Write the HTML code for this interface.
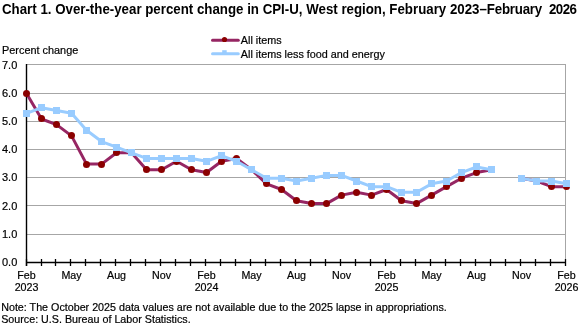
<!DOCTYPE html>
<html><head><meta charset="utf-8"><style>
html,body{margin:0;padding:0;background:#fff;}
body{width:586px;height:326px;overflow:hidden;font-family:"Liberation Sans", sans-serif;}
svg{display:block;will-change:transform;}
</style></head><body>
<svg width="586" height="326" viewBox="0 0 586 326">
<line x1="27" x2="566" y1="234.5" y2="234.5" stroke="#a6a6a6" stroke-width="1"/>
<line x1="27" x2="566" y1="205.5" y2="205.5" stroke="#a6a6a6" stroke-width="1"/>
<line x1="27" x2="566" y1="177.5" y2="177.5" stroke="#a6a6a6" stroke-width="1"/>
<line x1="27" x2="566" y1="149.5" y2="149.5" stroke="#a6a6a6" stroke-width="1"/>
<line x1="27" x2="566" y1="121.5" y2="121.5" stroke="#a6a6a6" stroke-width="1"/>
<line x1="27" x2="566" y1="93.5" y2="93.5" stroke="#a6a6a6" stroke-width="1"/>
<line x1="27" x2="566" y1="64.5" y2="64.5" stroke="#a6a6a6" stroke-width="1"/>
<line x1="565.5" x2="565.5" y1="64" y2="263" stroke="#a6a6a6" stroke-width="1"/>
<line x1="26.5" x2="26.5" y1="64" y2="266" stroke="#000" stroke-width="1.4"/>
<line x1="26" x2="566" y1="262.5" y2="262.5" stroke="#000" stroke-width="1.4"/>
<line x1="26.5" x2="26.5" y1="259" y2="266" stroke="#000" stroke-width="1.3"/>
<line x1="41.5" x2="41.5" y1="259" y2="266" stroke="#000" stroke-width="1.3"/>
<line x1="55.5" x2="55.5" y1="259" y2="266" stroke="#000" stroke-width="1.3"/>
<line x1="70.5" x2="70.5" y1="259" y2="266" stroke="#000" stroke-width="1.3"/>
<line x1="85.5" x2="85.5" y1="259" y2="266" stroke="#000" stroke-width="1.3"/>
<line x1="100.5" x2="100.5" y1="259" y2="266" stroke="#000" stroke-width="1.3"/>
<line x1="115.5" x2="115.5" y1="259" y2="266" stroke="#000" stroke-width="1.3"/>
<line x1="130.5" x2="130.5" y1="259" y2="266" stroke="#000" stroke-width="1.3"/>
<line x1="145.5" x2="145.5" y1="259" y2="266" stroke="#000" stroke-width="1.3"/>
<line x1="160.5" x2="160.5" y1="259" y2="266" stroke="#000" stroke-width="1.3"/>
<line x1="175.5" x2="175.5" y1="259" y2="266" stroke="#000" stroke-width="1.3"/>
<line x1="190.5" x2="190.5" y1="259" y2="266" stroke="#000" stroke-width="1.3"/>
<line x1="205.5" x2="205.5" y1="259" y2="266" stroke="#000" stroke-width="1.3"/>
<line x1="220.5" x2="220.5" y1="259" y2="266" stroke="#000" stroke-width="1.3"/>
<line x1="235.5" x2="235.5" y1="259" y2="266" stroke="#000" stroke-width="1.3"/>
<line x1="250.5" x2="250.5" y1="259" y2="266" stroke="#000" stroke-width="1.3"/>
<line x1="265.5" x2="265.5" y1="259" y2="266" stroke="#000" stroke-width="1.3"/>
<line x1="280.5" x2="280.5" y1="259" y2="266" stroke="#000" stroke-width="1.3"/>
<line x1="295.5" x2="295.5" y1="259" y2="266" stroke="#000" stroke-width="1.3"/>
<line x1="310.5" x2="310.5" y1="259" y2="266" stroke="#000" stroke-width="1.3"/>
<line x1="325.5" x2="325.5" y1="259" y2="266" stroke="#000" stroke-width="1.3"/>
<line x1="340.5" x2="340.5" y1="259" y2="266" stroke="#000" stroke-width="1.3"/>
<line x1="355.5" x2="355.5" y1="259" y2="266" stroke="#000" stroke-width="1.3"/>
<line x1="370.5" x2="370.5" y1="259" y2="266" stroke="#000" stroke-width="1.3"/>
<line x1="385.5" x2="385.5" y1="259" y2="266" stroke="#000" stroke-width="1.3"/>
<line x1="400.5" x2="400.5" y1="259" y2="266" stroke="#000" stroke-width="1.3"/>
<line x1="415.5" x2="415.5" y1="259" y2="266" stroke="#000" stroke-width="1.3"/>
<line x1="430.5" x2="430.5" y1="259" y2="266" stroke="#000" stroke-width="1.3"/>
<line x1="445.5" x2="445.5" y1="259" y2="266" stroke="#000" stroke-width="1.3"/>
<line x1="460.5" x2="460.5" y1="259" y2="266" stroke="#000" stroke-width="1.3"/>
<line x1="475.5" x2="475.5" y1="259" y2="266" stroke="#000" stroke-width="1.3"/>
<line x1="490.5" x2="490.5" y1="259" y2="266" stroke="#000" stroke-width="1.3"/>
<line x1="505.5" x2="505.5" y1="259" y2="266" stroke="#000" stroke-width="1.3"/>
<line x1="520.5" x2="520.5" y1="259" y2="266" stroke="#000" stroke-width="1.3"/>
<line x1="535.5" x2="535.5" y1="259" y2="266" stroke="#000" stroke-width="1.3"/>
<line x1="550.5" x2="550.5" y1="259" y2="266" stroke="#000" stroke-width="1.3"/>
<line x1="565.5" x2="565.5" y1="259" y2="266" stroke="#000" stroke-width="1.3"/>
<polyline points="26.55,93.60 41.55,118.98 56.55,124.62 71.55,135.90 86.55,164.10 101.55,164.10 116.55,152.82 131.55,152.82 146.55,169.74 161.55,169.74 176.55,161.28 191.55,169.74 206.55,172.56 221.55,161.28 236.55,158.46 251.55,169.74 266.55,183.84 281.55,189.48 296.55,200.76 311.55,203.58 326.55,203.58 341.55,195.12 356.55,192.30 371.55,195.12 386.55,189.48 401.55,200.76 416.55,203.58 431.55,195.12 446.55,186.66 461.55,178.20 476.55,172.56 491.55,169.74" fill="none" stroke="#962663" stroke-width="3" stroke-linejoin="round"/>
<polyline points="521.55,178.20 536.55,181.02 551.55,186.66 566.55,186.66" fill="none" stroke="#962663" stroke-width="3" stroke-linejoin="round"/>
<circle cx="26.50" cy="93.50" r="3.5" fill="#8b0000"/>
<circle cx="41.50" cy="118.50" r="3.5" fill="#8b0000"/>
<circle cx="56.50" cy="124.50" r="3.5" fill="#8b0000"/>
<circle cx="71.50" cy="135.50" r="3.5" fill="#8b0000"/>
<circle cx="86.50" cy="164.50" r="3.5" fill="#8b0000"/>
<circle cx="101.50" cy="164.50" r="3.5" fill="#8b0000"/>
<circle cx="116.50" cy="152.50" r="3.5" fill="#8b0000"/>
<circle cx="131.50" cy="152.50" r="3.5" fill="#8b0000"/>
<circle cx="146.50" cy="169.50" r="3.5" fill="#8b0000"/>
<circle cx="161.50" cy="169.50" r="3.5" fill="#8b0000"/>
<circle cx="176.50" cy="161.50" r="3.5" fill="#8b0000"/>
<circle cx="191.50" cy="169.50" r="3.5" fill="#8b0000"/>
<circle cx="206.50" cy="172.50" r="3.5" fill="#8b0000"/>
<circle cx="221.50" cy="161.50" r="3.5" fill="#8b0000"/>
<circle cx="236.50" cy="158.50" r="3.5" fill="#8b0000"/>
<circle cx="251.50" cy="169.50" r="3.5" fill="#8b0000"/>
<circle cx="266.50" cy="183.50" r="3.5" fill="#8b0000"/>
<circle cx="281.50" cy="189.50" r="3.5" fill="#8b0000"/>
<circle cx="296.50" cy="200.50" r="3.5" fill="#8b0000"/>
<circle cx="311.50" cy="203.50" r="3.5" fill="#8b0000"/>
<circle cx="326.50" cy="203.50" r="3.5" fill="#8b0000"/>
<circle cx="341.50" cy="195.50" r="3.5" fill="#8b0000"/>
<circle cx="356.50" cy="192.50" r="3.5" fill="#8b0000"/>
<circle cx="371.50" cy="195.50" r="3.5" fill="#8b0000"/>
<circle cx="386.50" cy="189.50" r="3.5" fill="#8b0000"/>
<circle cx="401.50" cy="200.50" r="3.5" fill="#8b0000"/>
<circle cx="416.50" cy="203.50" r="3.5" fill="#8b0000"/>
<circle cx="431.50" cy="195.50" r="3.5" fill="#8b0000"/>
<circle cx="446.50" cy="186.50" r="3.5" fill="#8b0000"/>
<circle cx="461.50" cy="178.50" r="3.5" fill="#8b0000"/>
<circle cx="476.50" cy="172.50" r="3.5" fill="#8b0000"/>
<circle cx="491.50" cy="169.50" r="3.5" fill="#8b0000"/>
<circle cx="521.50" cy="178.50" r="3.5" fill="#8b0000"/>
<circle cx="536.50" cy="181.50" r="3.5" fill="#8b0000"/>
<circle cx="551.50" cy="186.50" r="3.5" fill="#8b0000"/>
<circle cx="566.50" cy="186.50" r="3.5" fill="#8b0000"/>
<polyline points="26.55,113.34 41.55,107.70 56.55,110.52 71.55,113.34 86.55,130.26 101.55,141.54 116.55,147.18 131.55,152.82 146.55,158.46 161.55,158.46 176.55,158.46 191.55,158.46 206.55,161.28 221.55,155.64 236.55,161.28 251.55,169.74 266.55,178.20 281.55,178.20 296.55,181.02 311.55,178.20 326.55,175.38 341.55,175.38 356.55,181.02 371.55,186.66 386.55,186.66 401.55,192.30 416.55,192.30 431.55,183.84 446.55,181.02 461.55,172.56 476.55,166.92 491.55,169.74" fill="none" stroke="#99ccff" stroke-width="3" stroke-linejoin="round"/>
<polyline points="521.55,178.20 536.55,181.02 551.55,181.02 566.55,183.84" fill="none" stroke="#99ccff" stroke-width="3" stroke-linejoin="round"/>
<rect x="23" y="110" width="7" height="7" fill="#99ccff"/>
<rect x="38" y="104" width="7" height="7" fill="#99ccff"/>
<rect x="53" y="107" width="7" height="7" fill="#99ccff"/>
<rect x="68" y="110" width="7" height="7" fill="#99ccff"/>
<rect x="83" y="127" width="7" height="7" fill="#99ccff"/>
<rect x="98" y="138" width="7" height="7" fill="#99ccff"/>
<rect x="113" y="144" width="7" height="7" fill="#99ccff"/>
<rect x="128" y="149" width="7" height="7" fill="#99ccff"/>
<rect x="143" y="155" width="7" height="7" fill="#99ccff"/>
<rect x="158" y="155" width="7" height="7" fill="#99ccff"/>
<rect x="173" y="155" width="7" height="7" fill="#99ccff"/>
<rect x="188" y="155" width="7" height="7" fill="#99ccff"/>
<rect x="203" y="158" width="7" height="7" fill="#99ccff"/>
<rect x="218" y="152" width="7" height="7" fill="#99ccff"/>
<rect x="233" y="158" width="7" height="7" fill="#99ccff"/>
<rect x="248" y="166" width="7" height="7" fill="#99ccff"/>
<rect x="263" y="175" width="7" height="7" fill="#99ccff"/>
<rect x="278" y="175" width="7" height="7" fill="#99ccff"/>
<rect x="293" y="178" width="7" height="7" fill="#99ccff"/>
<rect x="308" y="175" width="7" height="7" fill="#99ccff"/>
<rect x="323" y="172" width="7" height="7" fill="#99ccff"/>
<rect x="338" y="172" width="7" height="7" fill="#99ccff"/>
<rect x="353" y="178" width="7" height="7" fill="#99ccff"/>
<rect x="368" y="183" width="7" height="7" fill="#99ccff"/>
<rect x="383" y="183" width="7" height="7" fill="#99ccff"/>
<rect x="398" y="189" width="7" height="7" fill="#99ccff"/>
<rect x="413" y="189" width="7" height="7" fill="#99ccff"/>
<rect x="428" y="180" width="7" height="7" fill="#99ccff"/>
<rect x="443" y="178" width="7" height="7" fill="#99ccff"/>
<rect x="458" y="169" width="7" height="7" fill="#99ccff"/>
<rect x="473" y="163" width="7" height="7" fill="#99ccff"/>
<rect x="488" y="166" width="7" height="7" fill="#99ccff"/>
<rect x="518" y="175" width="7" height="7" fill="#99ccff"/>
<rect x="533" y="178" width="7" height="7" fill="#99ccff"/>
<rect x="548" y="178" width="7" height="7" fill="#99ccff"/>
<rect x="563" y="180" width="7" height="7" fill="#99ccff"/>
<line x1="212.5" x2="238.3" y1="40.2" y2="40.2" stroke="#962663" stroke-width="3" stroke-linecap="round"/>
<circle cx="224.5" cy="39.5" r="2.6" fill="#8b0000"/>
<line x1="212.5" x2="238.3" y1="53.8" y2="53.8" stroke="#99ccff" stroke-width="3" stroke-linecap="round"/>
<rect x="222.2" y="50.2" width="4.5" height="3" fill="#99ccff"/>
<text x="2" y="0" transform="translate(0,14) scale(1,1.08)" font-size="13.3" font-weight="bold" font-family="Liberation Sans, sans-serif">Chart 1. Over-the-year percent change in CPI-U, West region, February 2023–<tspan letter-spacing="-0.22">February</tspan><tspan x="549.0" letter-spacing="-0.55">2026</tspan></text>
<text x="2" y="53.8" font-size="10.9" font-family="Liberation Sans, sans-serif" stroke="#000" stroke-width="0.2">Percent change</text>
<text x="17.3" y="266.00" font-size="11" text-anchor="end" font-family="Liberation Sans, sans-serif" stroke="#000" stroke-width="0.2">0.0</text>
<text x="17.3" y="238.00" font-size="11" text-anchor="end" font-family="Liberation Sans, sans-serif" stroke="#000" stroke-width="0.2">1.0</text>
<text x="17.3" y="210.00" font-size="11" text-anchor="end" font-family="Liberation Sans, sans-serif" stroke="#000" stroke-width="0.2">2.0</text>
<text x="17.3" y="181.00" font-size="11" text-anchor="end" font-family="Liberation Sans, sans-serif" stroke="#000" stroke-width="0.2">3.0</text>
<text x="17.3" y="153.00" font-size="11" text-anchor="end" font-family="Liberation Sans, sans-serif" stroke="#000" stroke-width="0.2">4.0</text>
<text x="17.3" y="125.00" font-size="11" text-anchor="end" font-family="Liberation Sans, sans-serif" stroke="#000" stroke-width="0.2">5.0</text>
<text x="17.3" y="97.00" font-size="11" text-anchor="end" font-family="Liberation Sans, sans-serif" stroke="#000" stroke-width="0.2">6.0</text>
<text x="17.3" y="69.00" font-size="11" text-anchor="end" font-family="Liberation Sans, sans-serif" stroke="#000" stroke-width="0.2">7.0</text>
<text x="26.55" y="278.7" font-size="10.7" text-anchor="middle" font-family="Liberation Sans, sans-serif" stroke="#000" stroke-width="0.2">Feb</text>
<text x="71.55" y="278.7" font-size="10.7" text-anchor="middle" font-family="Liberation Sans, sans-serif" stroke="#000" stroke-width="0.2">May</text>
<text x="116.55" y="278.7" font-size="10.7" text-anchor="middle" font-family="Liberation Sans, sans-serif" stroke="#000" stroke-width="0.2">Aug</text>
<text x="161.55" y="278.7" font-size="10.7" text-anchor="middle" font-family="Liberation Sans, sans-serif" stroke="#000" stroke-width="0.2">Nov</text>
<text x="206.55" y="278.7" font-size="10.7" text-anchor="middle" font-family="Liberation Sans, sans-serif" stroke="#000" stroke-width="0.2">Feb</text>
<text x="251.55" y="278.7" font-size="10.7" text-anchor="middle" font-family="Liberation Sans, sans-serif" stroke="#000" stroke-width="0.2">May</text>
<text x="296.55" y="278.7" font-size="10.7" text-anchor="middle" font-family="Liberation Sans, sans-serif" stroke="#000" stroke-width="0.2">Aug</text>
<text x="341.55" y="278.7" font-size="10.7" text-anchor="middle" font-family="Liberation Sans, sans-serif" stroke="#000" stroke-width="0.2">Nov</text>
<text x="386.55" y="278.7" font-size="10.7" text-anchor="middle" font-family="Liberation Sans, sans-serif" stroke="#000" stroke-width="0.2">Feb</text>
<text x="431.55" y="278.7" font-size="10.7" text-anchor="middle" font-family="Liberation Sans, sans-serif" stroke="#000" stroke-width="0.2">May</text>
<text x="476.55" y="278.7" font-size="10.7" text-anchor="middle" font-family="Liberation Sans, sans-serif" stroke="#000" stroke-width="0.2">Aug</text>
<text x="521.55" y="278.7" font-size="10.7" text-anchor="middle" font-family="Liberation Sans, sans-serif" stroke="#000" stroke-width="0.2">Nov</text>
<text x="566.55" y="278.7" font-size="10.7" text-anchor="middle" font-family="Liberation Sans, sans-serif" stroke="#000" stroke-width="0.2">Feb</text>
<text x="26.55" y="290.7" font-size="10.7" text-anchor="middle" font-family="Liberation Sans, sans-serif" stroke="#000" stroke-width="0.2">2023</text>
<text x="206.55" y="290.7" font-size="10.7" text-anchor="middle" font-family="Liberation Sans, sans-serif" stroke="#000" stroke-width="0.2">2024</text>
<text x="386.55" y="290.7" font-size="10.7" text-anchor="middle" font-family="Liberation Sans, sans-serif" stroke="#000" stroke-width="0.2">2025</text>
<text x="566.55" y="290.7" font-size="10.7" text-anchor="middle" font-family="Liberation Sans, sans-serif" stroke="#000" stroke-width="0.2">2026</text>
<text x="1.2" y="310.7" font-size="10.72" font-family="Liberation Sans, sans-serif" stroke="#000" stroke-width="0.2">Note: The October 2025 data values are not available due to the 2025 lapse in appropriations.</text>
<text x="1.2" y="322.6" font-size="10.72" font-family="Liberation Sans, sans-serif" stroke="#000" stroke-width="0.2">Source: U.S. Bureau of Labor Statistics.</text>
<text x="240.8" y="43.8" font-size="10.8" font-family="Liberation Sans, sans-serif" stroke="#000" stroke-width="0.2">All items</text>
<text x="240.8" y="57.6" font-size="10.8" font-family="Liberation Sans, sans-serif" stroke="#000" stroke-width="0.2">All items less food and energy</text>
</svg>
</body></html>
